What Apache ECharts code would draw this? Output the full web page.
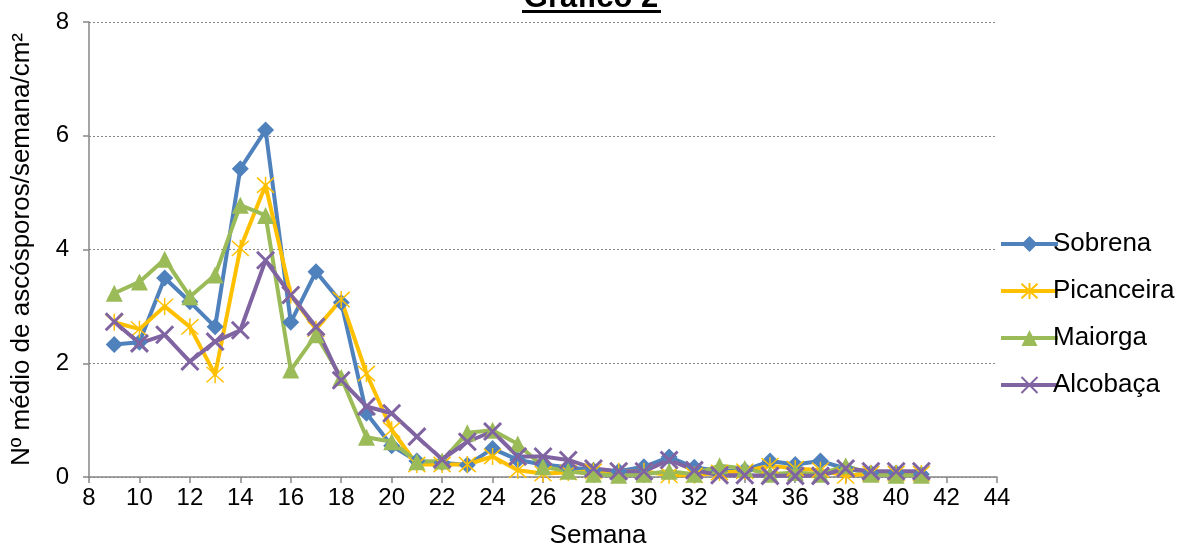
<!DOCTYPE html>
<html>
<head>
<meta charset="utf-8">
<script src="https://cdn.jsdelivr.net/npm/echarts@6/dist/echarts.min.js"></script>
<style>html,body{margin:0;padding:0;background:#fff;}#c{width:1179px;height:545px;}</style>
</head>
<body>
<div id="c"></div>
<script>
const weeks = [9,10,11,12,13,14,15,16,17,18,19,20,21,22,23,24,25,26,27,28,29,30,31,32,33,34,35,36,37,38,39,40,41];
const sobrena = [2.33,2.37,3.5,3.08,2.64,5.42,6.1,2.72,3.61,3.07,1.12,0.55,0.28,0.25,0.21,0.5,0.3,0.22,0.17,0.12,0.1,0.18,0.35,0.17,0.1,0.12,0.28,0.22,0.28,0.15,0.07,0.07,0.05];
const picanceira = [2.72,2.6,3.0,2.64,1.8,4.02,5.13,3.2,2.6,3.12,1.82,0.83,0.22,0.22,0.22,0.36,0.12,0.06,0.08,0.1,0.1,0.1,0.03,0.03,0.08,0.1,0.2,0.15,0.12,0.02,0.06,0.06,0.06];
const maiorga = [3.23,3.43,3.83,3.17,3.55,4.78,4.6,1.88,2.5,1.75,0.7,0.62,0.27,0.28,0.78,0.82,0.58,0.18,0.1,0.05,0.03,0.05,0.1,0.05,0.2,0.15,0.05,0.08,0.05,0.2,0.05,0.03,0.03];
const alcobaca = [2.73,2.35,2.5,2.03,2.38,2.58,3.81,3.2,2.64,1.7,1.24,1.12,0.71,0.31,0.62,0.8,0.36,0.36,0.3,0.15,0.1,0.1,0.3,0.12,0.03,0.03,0.02,0.02,0.02,0.15,0.1,0.1,0.1];
const seriesNames = ['Sobrena','Picanceira','Maiorga','Alcobaça'];
const titleText = 'Gráfico 2';
const xName = 'Semana';
const yName = 'Nº médio de ascósporos/semana/cm²';

const pair = arr => weeks.map((w,i)=>[w, arr[i]]);
const font = 'Liberation Sans, Arial, sans-serif';
const STAR = 'path://M5,0L5,10M0.5,0.5L9.5,9.5M9.5,0.5L0.5,9.5';
const XMARK = 'path://M0,0L10,10M10,0L0,10';

function mk(name, data, color, symbol, size, bw) {
  return {
    name, type:'line', data: pair(data),
    symbol, symbolSize: size,
    lineStyle:{color, width:4},
    itemStyle:{color, borderColor:color, borderWidth:bw},
    emphasis:{disabled:true},
    animation:false
  };
}

const chart = echarts.init(document.getElementById('c'));
chart.setOption({
  animation:false,
  textStyle:{fontFamily:font},
  grid:{left:89, right:182, top:22, bottom:68, containLabel:false, outerBoundsMode:'none'},
  legend:{
    orient:'vertical', left:994, top:226, itemWidth:57, itemHeight:20, itemGap:21,
    lineStyle:{width:4},
    textStyle:{fontFamily:font, fontSize:26, color:'#000', padding:[0,0,0,-10]},
    data: seriesNames
  },
  xAxis:{
    type:'value', min:8, max:44, interval:2,
    name:xName, nameLocation:'middle', nameGap:46,
    nameTextStyle:{fontFamily:font, fontSize:26, color:'#000', padding:[0,0,0,110]},
    axisLine:{lineStyle:{color:'#868686', width:1.5}},
    axisTick:{show:true, length:6, lineStyle:{color:'#868686', width:1.5}},
    axisLabel:{fontFamily:font, fontSize:24, color:'#000', margin:9},
    splitLine:{show:false}
  },
  yAxis:{
    type:'value', min:0, max:8, interval:2,
    name:yName, nameLocation:'middle', nameGap:54,
    nameTextStyle:{fontFamily:font, fontSize:26, color:'#000'},
    axisLine:{show:true, lineStyle:{color:'#868686', width:1.5}},
    axisTick:{show:true, length:6, lineStyle:{color:'#868686', width:1.5}},
    axisLabel:{fontFamily:font, fontSize:24, color:'#000', margin:20},
    splitLine:{show:true, lineStyle:{color:'#868686', type:[2,2], width:1}}
  },
  graphic:[
    {type:'text', x:591, y:14, style:{text:titleText, font:'bold 31px Liberation Sans, Arial, sans-serif', fill:'#000', align:'center', verticalAlign:'bottom'}},
    {type:'line', shape:{x1:522, y1:11.5, x2:661, y2:11.5}, style:{stroke:'#000', lineWidth:3}}
  ],
  series:[
    mk(seriesNames[0], sobrena, '#4F81BD', 'diamond', 17, 0),
    mk(seriesNames[1], picanceira, '#FFC000', STAR, 17, 1.5),
    mk(seriesNames[2], maiorga, '#9BBB59', 'triangle', 17, 0),
    mk(seriesNames[3], alcobaca, '#8064A2', XMARK, 17, 3)
  ]
});
</script>
</body>
</html>
